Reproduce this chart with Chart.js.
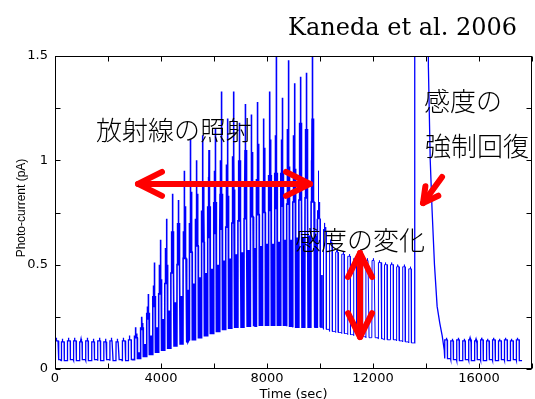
<!DOCTYPE html>
<html><head><meta charset="utf-8">
<script src="https://cdn.jsdelivr.net/npm/chart.js@4/dist/chart.umd.min.js"></script>
<style>html,body{margin:0;padding:0;background:#fff;}canvas{display:block}</style>
</head><body>
<canvas id="c" width="535" height="399"></canvas>
<script>
// ---- data (per illumination cycle) ----
const cycleStart = [
  0,230,460,690,920,1150,1380,1610,1840,2070,2300,2530,2760,
  2990,3220,3450,3680,3910,4140,4370,4600,4830,5060,5290,5520,5750,5980,6210,6440,6670,6900,7130,7360,7590,7820,8050,8280,8510,8740,8970,9200,9430,9660,
  9890,10120,10350,10580,10810,11040,11270,11500,11730,11960,12190,12420,12650,12880,13110,13340,
  14700,14925,15150,15375,15600,15825,16050,16275,16500,16725,16950,17175,17400
];
const cycleLow = [
  0.045,0.04,0.045,0.04,0.045,0.04,0.045,0.04,0.045,0.04,0.045,0.04,0.045,
  0.05,0.06,0.07,0.08,0.09,0.10,0.11,0.12,0.13,0.14,0.15,0.16,0.17,0.18,0.19,0.195,0.20,0.20,0.205,0.205,0.21,0.21,0.21,0.21,0.21,0.205,0.20,0.20,0.20,0.20,
  0.20,0.19,0.18,0.175,0.17,0.165,0.16,0.155,0.15,0.15,0.145,0.14,0.14,0.135,0.13,0.125,
  0.05,0.045,0.04,0.045,0.04,0.045,0.04,0.045,0.04,0.045,0.04,0.045,0.04
];
const cycleHigh = [
  0.135,0.13,0.135,0.135,0.13,0.135,0.13,0.135,0.13,0.135,0.13,0.135,0.14,
  0.15,0.19,0.24,0.30,0.36,0.41,0.46,0.50,0.53,0.56,0.59,0.61,0.63,0.65,0.67,0.68,0.70,0.71,0.72,0.73,0.74,0.75,0.76,0.77,0.78,0.79,0.80,0.81,0.82,0.80,
  0.72,0.66,0.60,0.56,0.55,0.54,0.53,0.53,0.52,0.52,0.51,0.50,0.50,0.49,0.49,0.48,
  0.14,0.135,0.14,0.135,0.14,0.135,0.14,0.135,0.14,0.135,0.14,0.135,0.14
];
const cyclePeak = [
  0.15,0.145,0.15,0.15,0.145,0.15,0.145,0.15,0.145,0.15,0.145,0.15,0.16,
  0.20,0.25,0.36,0.51,0.62,0.72,0.84,0.81,0.95,1.10,1.00,1.12,1.05,1.15,1.33,1.20,1.33,1.18,1.27,1.22,1.28,1.20,1.33,1.60,1.30,1.48,1.37,1.40,1.42,1.60,
  0.95,0.70,0.62,0.57,0.56,0.55,0.54,0.54,0.53,0.53,0.52,0.51,0.51,0.50,0.50,0.49,
  0.15,0.145,0.15,0.145,0.15,0.145,0.15,0.145,0.15,0.145,0.15,0.145,0.15
];
const cycleSpike = [
  0.135,0.13,0.135,0.135,0.13,0.135,0.13,0.135,0.13,0.135,0.13,0.135,0.14,
  0.17,0.22,0.30,0.40,0.50,0.58,0.66,0.70,0.78,0.85,0.84,0.90,0.92,0.95,1.00,0.98,1.02,1.00,1.05,1.04,1.08,1.06,1.10,1.12,1.10,1.15,1.12,1.18,1.15,1.20,
  0.80,0.68,0.61,0.56,0.55,0.54,0.53,0.53,0.52,0.52,0.51,0.50,0.50,0.49,0.49,0.48,
  0.14,0.135,0.14,0.135,0.14,0.135,0.14,0.135,0.14,0.135,0.14,0.135,0.14
];
const cycleSpike2 = [
  0.135,0.13,0.135,0.135,0.13,0.135,0.13,0.135,0.13,0.135,0.13,0.135,0.14,
  0.16,0.20,0.27,0.35,0.43,0.50,0.56,0.60,0.66,0.70,0.72,0.76,0.78,0.80,0.84,0.83,0.86,0.86,0.88,0.88,0.91,0.90,0.93,0.94,0.94,0.97,0.96,1.00,0.98,1.00,
  0.76,0.67,0.60,0.56,0.55,0.54,0.53,0.53,0.52,0.52,0.51,0.50,0.50,0.49,0.49,0.48,
  0.14,0.135,0.14,0.135,0.14,0.135,0.14,0.135,0.14,0.135,0.14,0.135,0.14
];
// cosmic-ray hits while the light is off (dark phase)
const cycleOffSpike = [
  0.045,0.04,0.045,0.04,0.045,0.04,0.045,0.04,0.045,0.04,0.045,0.04,0.045,
  0.08,0.12,0.16,0.20,0.24,0.28,0.32,0.35,0.38,0.41,0.44,0.46,0.48,0.50,0.52,0.53,0.55,0.56,0.57,0.58,0.59,0.60,0.60,0.61,0.62,0.62,0.63,0.63,0.64,0.64,
  0.45,0.19,0.18,0.175,0.17,0.165,0.16,0.155,0.15,0.15,0.145,0.14,0.14,0.135,0.13,0.125,
  0.05,0.045,0.04,0.045,0.04,0.045,0.04,0.045,0.04,0.045,0.04,0.045,0.04
];
// forced-recovery segment (goes off the top of the axes)
const recoveryTime  = [13570, 13580, 14060, 14090, 14160, 14230, 14320, 14420, 14520, 14610, 14690];
const recoveryValue = [0.125, 2.6,   2.6,   1.45,  1.00,  0.76,  0.50,  0.30,  0.22,  0.16,  0.09];

const xTickLabels = [0, 4000, 8000, 12000, 16000];
const xTickMarks  = [0, 2000, 4000, 6000, 8000, 10000, 12000, 14000, 16000, 18000];
const yTickLabels = [0, 0.5, 1, 1.5];
const yTickMarks  = [0, 0.25, 0.5, 0.75, 1, 1.25, 1.5];

const titleText = 'Kaneda et al. 2006';
const xTitle = 'Time (sec)';
const yTitle = 'Photo-current (pA)';

// annotations (in data coordinates)
const notes = [
  {text:'放射線の照射', x:1547,  y:1.143},
  {text:'感度の変化',   x:9057,  y:0.618},
  {text:'感度の',       x:13926, y:1.284},
  {text:'強制回復',     x:13964, y:1.066}
];
const arrows = [
  {x1:3132,  y1:0.887, x2:9623,  y2:0.887, both:true,  len:24, half:12},
  {x1:11511, y1:0.556, x2:11511, y2:0.153, both:true,  len:24, half:12},
  {x1:14605, y1:0.920, x2:13888, y2:0.795, both:false, len:15, half:8}
];

// ---- build the trace table from the per-cycle values ----
const pts = [];
cycleStart.forEach((s, i) => {
  const L = cycleLow[i], H = cycleHigh[i], P = cyclePeak[i], Q = cycleSpike[i], R = cycleSpike2[i], O = cycleOffSpike[i];
  pts.push(
    {x:s, y:L}, {x:s+5, y:H},
    {x:s+16, y:H}, {x:s+18, y:R}, {x:s+20, y:H},
    {x:s+38, y:H}, {x:s+40, y:Q}, {x:s+42, y:H},
    {x:s+60, y:H}, {x:s+62, y:P}, {x:s+64, y:H},
    {x:s+82, y:H}, {x:s+84, y:Q}, {x:s+86, y:H},
    {x:s+100, y:H}, {x:s+102, y:R}, {x:s+104, y:H},
    {x:s+114, y:H}, {x:s+121, y:L},
    {x:s+148, y:L}, {x:s+150, y:O}, {x:s+152, y:L},
    {x:s+186, y:L}, {x:s+188, y:O}, {x:s+190, y:L},
    {x:s+225, y:L}
  );
});
recoveryTime.forEach((t, i) => pts.push({x:t, y:recoveryValue[i]}));
pts.sort((a, b) => a.x - b.x);

function drawArrowHead(ctx, fx, fy, tx, ty, len, half) {
  const dx = tx - fx, dy = ty - fy, d = Math.hypot(dx, dy);
  const ux = dx / d, uy = dy / d, nx = -uy, ny = ux;
  ctx.beginPath();
  ctx.moveTo(tx - ux*len + nx*half, ty - uy*len + ny*half);
  ctx.lineTo(tx, ty);
  ctx.lineTo(tx - ux*len - nx*half, ty - uy*len - ny*half);
  ctx.stroke();
}

const decor = {
  id: 'decor',
  afterDraw(chart) {
    const {ctx, chartArea: a, scales: {x, y}} = chart;
    ctx.save();
    ctx.strokeStyle = '#000'; ctx.lineWidth = 1;
    const L = Math.round(a.left) + 0.5, R = Math.round(a.right) - 0.5;
    const T = Math.round(a.top) + 0.5, B = Math.round(a.bottom) - 0.5;
    ctx.strokeRect(L, T, R - L, B - T);
    ctx.beginPath();
    xTickMarks.forEach(v => {
      const px = Math.round(x.getPixelForValue(v)) + 0.5;
      ctx.moveTo(px, B); ctx.lineTo(px, B - 5);
      ctx.moveTo(px, T); ctx.lineTo(px, T + 5);
    });
    yTickMarks.forEach(v => {
      const py = Math.round(y.getPixelForValue(v)) + 0.5;
      ctx.moveTo(L, py); ctx.lineTo(L + 5, py);
      ctx.moveTo(R, py); ctx.lineTo(R - 5, py);
    });
    ctx.stroke();

    ctx.fillStyle = '#000';
    ctx.font = '24px "DejaVu Serif"';
    ctx.textAlign = 'right'; ctx.textBaseline = 'alphabetic';
    ctx.fillText(titleText, 517, 35);

    ctx.font = '13px "DejaVu Sans"';
    ctx.textAlign = 'center';
    ctx.fillText(xTitle, (a.left + a.right) / 2, 398);
    ctx.save();
    ctx.translate(22, 208);
    ctx.rotate(-Math.PI / 2);
    ctx.font = '12px "Liberation Sans"';
    ctx.textBaseline = 'middle';
    ctx.fillText(yTitle, 0, 0);
    ctx.restore();

    ctx.font = '300 26px "Noto Sans CJK JP"';
    ctx.fillStyle = '#000';
    ctx.textAlign = 'left'; ctx.textBaseline = 'middle';
    notes.forEach(n => ctx.fillText(n.text, x.getPixelForValue(n.x), y.getPixelForValue(n.y)));

    ctx.strokeStyle = '#ff0000';
    ctx.lineWidth = 6; ctx.lineCap = 'round'; ctx.lineJoin = 'round';
    arrows.forEach(ar => {
      const x1 = x.getPixelForValue(ar.x1), y1 = y.getPixelForValue(ar.y1);
      const x2 = x.getPixelForValue(ar.x2), y2 = y.getPixelForValue(ar.y2);
      ctx.beginPath(); ctx.moveTo(x1, y1); ctx.lineTo(x2, y2); ctx.stroke();
      drawArrowHead(ctx, x1, y1, x2, y2, ar.len, ar.half);
      if (ar.both) drawArrowHead(ctx, x2, y2, x1, y1, ar.len, ar.half);
    });
    ctx.restore();
  }
};

new Chart(document.getElementById('c').getContext('2d'), {
  type: 'line',
  data: {datasets: [{
    data: pts, borderColor: '#0000ff', borderWidth: 1.3,
    segment: {borderWidth: c => {
      const t = c.p0.parsed.x;
      if (t > 2900 && t < 9900) return 1.6;
      if (t >= 9900 && t < 13560) return 1;
      return 1.3;
    }},
    pointRadius: 0, tension: 0, fill: false, clip: 0
  }]},
  options: {
    responsive: false, animation: false, devicePixelRatio: 1,
    layout: {padding: {top: 56, right: 3, left: 0, bottom: 0}},
    plugins: {legend: {display: false}, tooltip: {enabled: false}, title: {display: false}},
    scales: {
      x: {
        type: 'linear', min: 0, max: 18000,
        afterFit(s) { s.height = 30; },
        afterBuildTicks(s) { s.ticks = xTickLabels.map(v => ({value: v})); },
        grid: {display: false, drawTicks: false}, border: {display: false},
        ticks: {padding: 2, color: '#000', font: {family: 'DejaVu Sans', size: 13},
                maxRotation: 0, autoSkip: false, callback: v => String(v)}
      },
      y: {
        type: 'linear', min: 0, max: 1.5,
        afterFit(s) { s.width = 55; },
        afterBuildTicks(s) { s.ticks = yTickLabels.map(v => ({value: v})); },
        grid: {display: false, drawTicks: false}, border: {display: false},
        ticks: {padding: 7, color: '#000', font: {family: 'DejaVu Sans', size: 13},
                autoSkip: false, callback: v => String(v)}
      }
    }
  },
  plugins: [decor]
});
</script>
</body></html>
